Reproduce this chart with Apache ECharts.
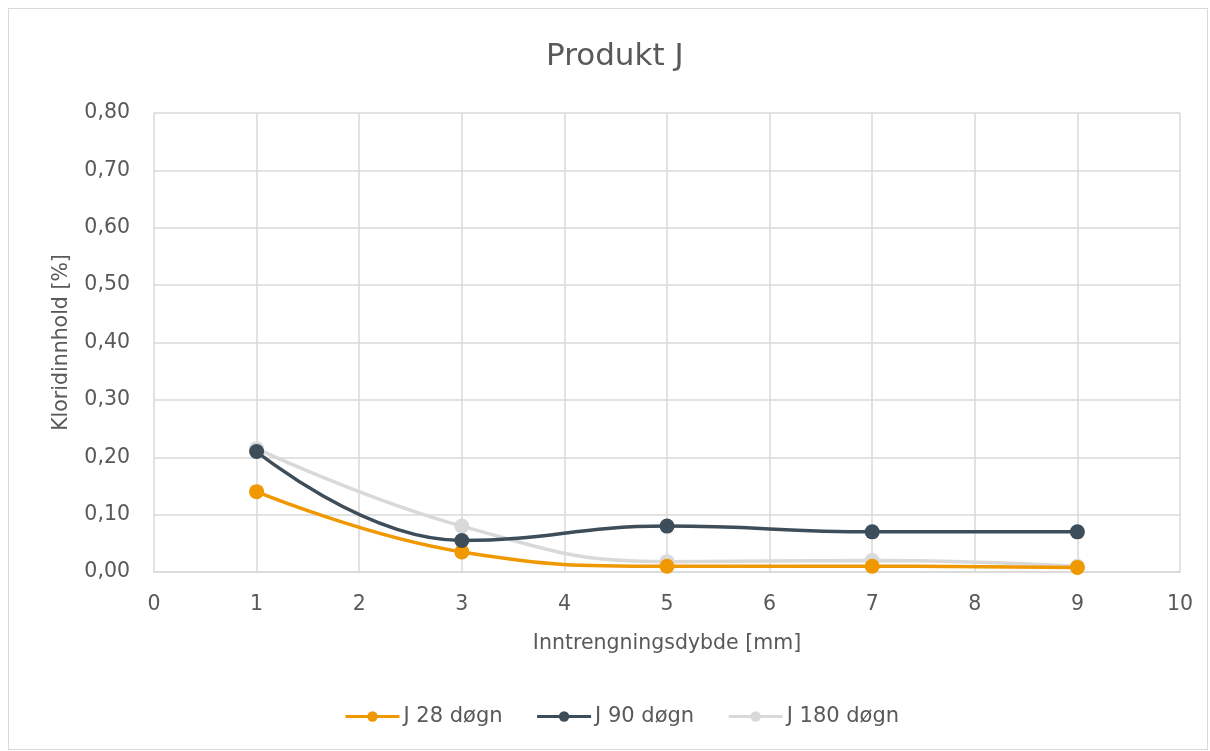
<!DOCTYPE html>
<html><head><meta charset="utf-8">
<script src="https://cdn.jsdelivr.net/npm/echarts@6/dist/echarts.min.js"></script>
<style>
html,body{margin:0;padding:0;background:#fff;}
#frame{position:absolute;left:8px;top:8px;width:1200px;height:742px;border:1px solid #d9d9d9;box-sizing:border-box;}
#c{position:absolute;left:0;top:0;width:1210px;height:751px;}
</style></head>
<body>
<div id="frame"></div>
<div id="c"></div>
<script>
const title = 'Produkt J';
const xName = 'Inntrengningsdybde [mm]';
const yName = 'Kloridinnhold [%]';
const depths = [1, 3, 5, 7, 9];
const j28 = [0.14, 0.035, 0.01, 0.01, 0.008];
const j90 = [0.21, 0.055, 0.08, 0.07, 0.07];
const j180 = [0.215, 0.08, 0.018, 0.02, 0.01];
const seriesNames = ['J 28 døgn', 'J 90 døgn', 'J 180 døgn'];
const colors = ['#F09800', '#3D4D59', '#D9D9D9'];

const font = '"DejaVu Sans", Verdana, sans-serif';
const txt = '#595959';
const fs = 20.5;
const pairs = v => depths.map((d, i) => [d, v[i]]);
const mk = (name, data, color, z) => ({
  name, type: 'line', data: pairs(data), smooth: 0.45,
  symbol: 'circle', symbolSize: 15, z,
  lineStyle: {color, width: 3.5}, itemStyle: {color}
});

const chart = echarts.init(document.getElementById('c'), null, {renderer: 'canvas'});
chart.setOption({
  animation: false,
  textStyle: {fontFamily: font},
  title: {text: title, left: 541, top: 36, textStyle: {fontFamily: font, fontSize: 31, fontWeight: 'normal', color: txt}},
  legend: {
    bottom: 19, left: 339, itemWidth: 54, itemHeight: 13, itemGap: 33,
    lineStyle: {width: 3},
    textStyle: {fontFamily: font, fontSize: 21, color: txt, padding: [0,0,0,-1]},
    data: seriesNames
  },
  grid: {left: 154, right: 30, top: 113, bottom: 179},
  xAxis: {
    type: 'value', min: 0, max: 10, interval: 1,
    name: xName, nameLocation: 'middle', nameGap: 61,
    nameTextStyle: {fontFamily: font, fontSize: fs, color: txt},
    axisLine: {lineStyle: {color: '#d9d9d9', width: 1.5}},
    axisTick: {show: false},
    axisLabel: {fontFamily: font, fontSize: fs, color: txt, margin: 22},
    splitLine: {show: true, lineStyle: {color: '#d9d9d9', width: 1.5}}
  },
  yAxis: {
    type: 'value', min: 0, max: 0.8, interval: 0.1,
    name: yName, nameLocation: 'middle', nameGap: 82, nameRotate: 90,
    nameTextStyle: {fontFamily: font, fontSize: fs, color: txt},
    axisLine: {show: false}, axisTick: {show: false},
    axisLabel: {fontFamily: font, fontSize: fs, color: txt, margin: 24,
      formatter: v => v.toFixed(2).replace('.', ',')},
    splitLine: {lineStyle: {color: '#d9d9d9', width: 1.5}}
  },
  series: [mk(seriesNames[0], j28, colors[0], 3), mk(seriesNames[1], j90, colors[1], 4), mk(seriesNames[2], j180, colors[2], 2)]
});
</script>
</body></html>
